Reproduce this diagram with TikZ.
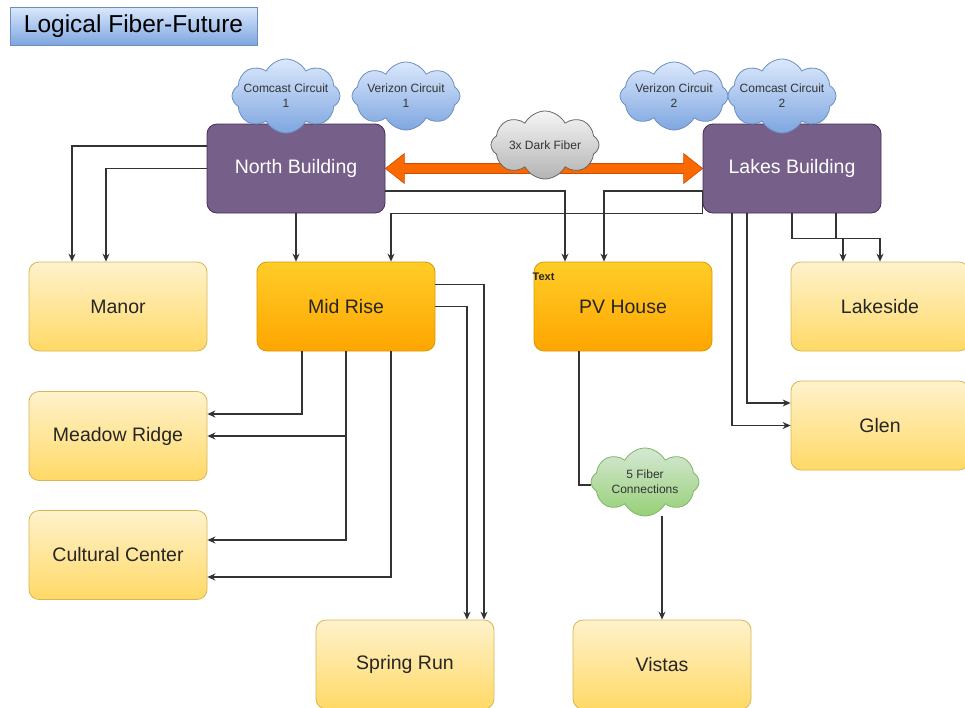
\documentclass[tikz,border=0pt]{standalone}
\usepackage{fontspec}
\setmainfont{Liberation Sans}
\usetikzlibrary{shapes.symbols}
\usetikzlibrary{arrows.meta}
\usetikzlibrary{calc}
\definecolor{bldfill}{HTML}{76608A}
\definecolor{bldline}{HTML}{432D57}
\definecolor{hubtop}{HTML}{FFCD28}
\definecolor{hubbot}{HTML}{FFA500}
\definecolor{hubline}{HTML}{D79B00}
\definecolor{sitetop}{HTML}{FFF2CC}
\definecolor{sitebot}{HTML}{FFD966}
\definecolor{siteline}{HTML}{D6B656}
\definecolor{isptop}{HTML}{DAE8FC}
\definecolor{ispbot}{HTML}{7EA6E0}
\definecolor{ispline}{HTML}{6C8EBF}
\definecolor{darktop}{HTML}{F5F5F5}
\definecolor{darkbot}{HTML}{B3B3B3}
\definecolor{darkline}{HTML}{666666}
\definecolor{fivetop}{HTML}{D5E8D4}
\definecolor{fivebot}{HTML}{97D077}
\definecolor{fiveline}{HTML}{82B366}
\definecolor{fatfill}{HTML}{FA6800}
\definecolor{fatline}{HTML}{D04A00}
\definecolor{wirecol}{HTML}{333333}

\begin{document}
\begin{tikzpicture}[x=1pt,y=-1pt,
    box/.style={rectangle,rounded corners=10pt,minimum width=178pt,minimum height=89pt,
      line width=0.8pt,font=\fontsize{19.5}{22}\selectfont},
    bld/.style={box,fill=bldfill,draw=bldline,text=white},
    hub/.style={box,top color=hubtop,bottom color=hubbot,draw=hubline,text=black!85},
    site/.style={box,top color=sitetop,bottom color=sitebot,draw=siteline,text=black!85},
    puff/.style={cloud,cloud puffs=8,cloud puff arc=125,aspect=1.6,minimum width=108pt,
      minimum height=68pt,inner xsep=-10pt,inner ysep=-2pt,align=center,line width=0.8pt,
      font=\fontsize{12}{15}\selectfont,text=black!80},
    isp/.style={puff,top color=isptop,bottom color=ispbot,draw=ispline},
    wire/.style={draw=wirecol,line width=1.2pt,-{Stealth[length=8pt,width=7pt]}},
  ]
  \useasboundingbox (0,0) rectangle (965,707);
  % Title
  \node[rectangle,minimum width=247pt,minimum height=38pt,top color=isptop,bottom color=ispbot,
    draw=ispline,line width=0.8pt,font=\fontsize{24.5}{27}\selectfont] (title) at (133.5,26) {Logical Fiber-Future};
  % Buildings
  \node[bld] (north) at (296,168.5) {North Building};
  \node[bld] (lakes) at (792,168.5) {Lakes Building};
  \node[hub] (midrise) at (346,306.5) {Mid Rise};
  \node[hub] (pvhouse) at (623,306.5) {PV House};
  \node[font=\bfseries\fontsize{11}{13}\selectfont,inner sep=0pt,text=black!85]
    (pvtag) at ($(pvhouse.north west)+(10,15)$) {Text};
  \node[site] (manor) at (118,306.5) {Manor};
  \node[site] (lakeside) at (880,306.5) {Lakeside};
  \node[site] (meadow) at (118,436) {Meadow Ridge};
  \node[site] (cultural) at (118,555) {Cultural Center};
  \node[site] (glen) at (880,425.5) {Glen};
  \node[site] (springrun) at (405,664.5) {Spring Run};
  \node[site] (vistas) at (662,664.5) {Vistas};
  \node[puff,top color=fivetop,bottom color=fivebot,draw=fiveline] (five) at (645,482) {5 Fiber\\Connections};
  % Wires
  \draw[wire] ([yshift=22.5pt]north.west) -| ([xshift=-46pt]manor.north);
  \draw[wire] (north.west) -| ([xshift=-12pt]manor.north);
  \draw[wire] (north.south) -- (north.south |- midrise.north);
  \draw[wire] ([yshift=-22.5pt]north.east) -| ([xshift=-58pt]pvhouse.north);
  \draw[wire] ([yshift=-22.5pt]lakes.west) -- (lakes.south west) -| ([xshift=45pt]midrise.north);
  \draw[wire] ([yshift=-22.5pt]lakes.west) -| ([xshift=-19pt]pvhouse.north);
  \draw[wire] (lakes.south) -- ++(0,25) -| (lakeside.north);
  \draw[wire] ([xshift=44pt]lakes.south) -- ++(0,25) -| ([xshift=-37pt]lakeside.north);
  \draw[wire] ([xshift=-45pt]lakes.south) |- ([yshift=22.5pt]glen.west);
  \draw[wire] ([xshift=-60pt]lakes.south) |- (glen.west);
  \draw[wire] ([yshift=22pt]midrise.east) -| ([xshift=79pt]springrun.north);
  \draw[wire] (midrise.east) -| ([xshift=62pt]springrun.north);
  \draw[wire] ([xshift=-44pt]midrise.south) |- ([yshift=22pt]meadow.east);
  \draw[wire] (midrise.south) |- (meadow.east);
  \draw[wire] (midrise.south) |- ([yshift=15pt]cultural.east);
  \draw[wire] ([xshift=45pt]midrise.south) |- ([yshift=-22pt]cultural.east);
  \draw[draw=wirecol,line width=1.2pt] ([xshift=-44pt]pvhouse.south) |- ([yshift=-3pt]five.west);
  \draw[wire] (five.south -| vistas.north) -- (vistas.north);
  % Dark fiber
  \filldraw[fill=fatfill,draw=fatline,line width=0.6pt] (north.east) -- ++(19,-15) -- ++(0,10)
    -- ($(lakes.west)+(-19,-5)$) -- ++(0,-10) -- (lakes.west) -- ++(-19,15) -- ++(0,-10)
    -- ($(north.east)+(19,5)$) -- ++(0,10) -- cycle;
  % Clouds
  \node[isp] (comcast1) at (286,96) {Comcast Circuit\\1};
  \node[isp] (verizon1) at (406,96) {Verizon Circuit\\1};
  \node[isp] (verizon2) at (674,96) {Verizon Circuit\\2};
  \node[isp] (comcast2) at (782,96) {Comcast Circuit\\2};
  \node[puff,top color=darktop,bottom color=darkbot,draw=darkline] (dark) at (545,145) {3x Dark Fiber};
\end{tikzpicture}
\end{document}
